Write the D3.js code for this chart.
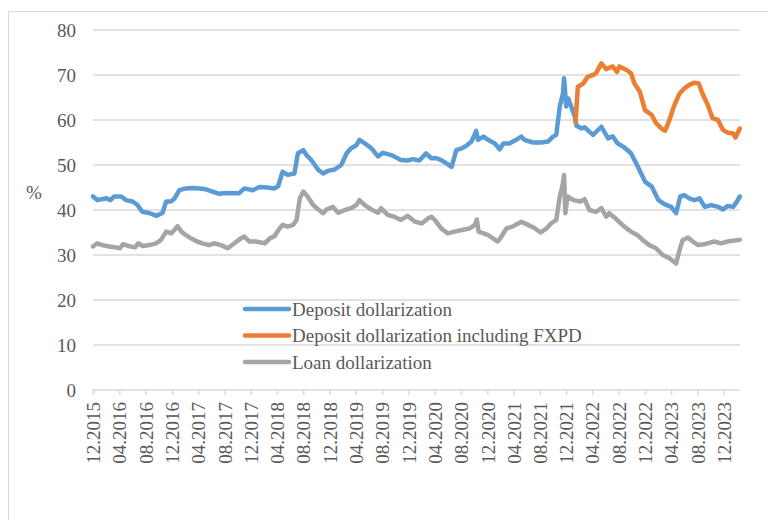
<!DOCTYPE html>
<html>
<head>
<meta charset="utf-8">
<script src="https://cdn.jsdelivr.net/npm/d3@7"></script>
<style>
  body { margin: 0; background: #fff; }
  svg { display: block; font-family: "Liberation Serif", "Times New Roman", serif; }
</style>
</head>
<body>
<svg id="chart" width="768" height="520"></svg>
<script>
// series as [date, %]
const depositDollarization = [
  ["2015-12-01",43.0],["2015-12-21",42.2],["2016-02-01",42.6],["2016-02-21",42.2],["2016-03-07",43.0],
  ["2016-04-10",43.0],["2016-05-01",42.2],["2016-06-01",41.9],["2016-06-24",41.1],["2016-07-16",39.6],
  ["2016-08-10",39.4],["2016-09-01",39.1],["2016-09-21",38.7],["2016-10-18",39.4],["2016-11-04",41.9],
  ["2016-11-27",41.9],["2016-12-13",42.6],["2017-01-04",44.4],["2017-02-04",44.8],["2017-03-07",44.9],
  ["2017-04-07",44.8],["2017-05-07",44.6],["2017-06-07",44.1],["2017-07-07",43.6],["2017-08-07",43.8],
  ["2017-09-07",43.7],["2017-10-07",43.7],["2017-11-01",44.8],["2017-12-10",44.4],["2018-01-10",45.1],
  ["2018-02-16",45.0],["2018-03-21",44.8],["2018-04-07",45.3],["2018-04-27",48.5],["2018-05-21",47.8],
  ["2018-06-21",48.1],["2018-07-07",52.6],["2018-08-01",53.3],["2018-08-16",52.2],["2018-09-07",51.1],
  ["2018-10-10",48.9],["2018-11-01",48.1],["2018-11-24",48.7],["2018-12-24",49.0],["2019-01-24",50.0],
  ["2019-02-18",52.6],["2019-03-10",53.7],["2019-04-04",54.4],["2019-04-18",55.6],["2019-05-13",54.8],
  ["2019-06-13",53.7],["2019-07-13",51.9],["2019-08-04",52.7],["2019-09-13",52.2],["2019-10-27",51.1],
  ["2019-11-27",51.0],["2019-12-21",51.3],["2020-01-21",51.0],["2020-02-21",52.6],["2020-03-16",51.5],
  ["2020-04-10",51.5],["2020-05-01",51.1],["2020-05-24",50.4],["2020-06-18",49.6],["2020-07-10",53.3],
  ["2020-08-04",53.7],["2020-08-24",54.2],["2020-09-18",55.2],["2020-10-10",57.6],["2020-10-18",55.6],
  ["2020-11-13",56.3],["2020-12-04",55.6],["2021-01-04",54.8],["2021-01-27",53.5],["2021-02-13",54.8],
  ["2021-03-13",54.8],["2021-04-13",55.6],["2021-05-07",56.3],["2021-05-21",55.6],["2021-07-01",55.0],
  ["2021-08-07",55.0],["2021-09-07",55.2],["2021-10-01",56.3],["2021-10-16",56.7],["2021-11-01",63.0],
  ["2021-11-16",65.9],["2021-11-21",69.3],["2021-12-01",63.0],["2021-12-10",64.8],["2021-12-24",63.0],
  ["2022-01-10",60.7],["2022-01-18",58.7],["2022-02-10",58.1],["2022-02-24",58.4],["2022-03-16",57.5],
  ["2022-04-04",56.7],["2022-05-13",58.5],["2022-06-13",55.9],["2022-07-04",56.4],["2022-07-27",54.8],
  ["2022-08-27",53.9],["2022-09-27",52.6],["2022-10-21",50.4],["2022-11-13",48.1],["2022-12-01",46.3],
  ["2023-01-01",45.2],["2023-02-01",42.2],["2023-03-01",41.3],["2023-04-01",40.7],["2023-04-24",39.3],
  ["2023-05-13",43.0],["2023-06-01",43.3],["2023-06-24",42.6],["2023-07-18",42.2],["2023-08-10",42.6],
  ["2023-09-04",40.7],["2023-10-04",41.1],["2023-11-04",40.7],["2023-11-27",40.1],["2023-12-18",40.9],
  ["2024-01-13",40.7],["2024-01-27",41.6],["2024-02-13",43.0]
];

const depositInclFXPD = [
  ["2022-01-13",59.5],["2022-01-24",67.4],["2022-02-18",68.1],["2022-03-10",69.6],["2022-04-04",70.0],
  ["2022-04-18",70.4],["2022-05-13",72.6],["2022-06-04",71.3],["2022-07-04",71.9],["2022-07-24",70.7],
  ["2022-08-04",71.9],["2022-09-07",71.1],["2022-09-27",70.4],["2022-10-13",68.1],["2022-11-07",66.3],
  ["2022-12-01",62.2],["2023-01-01",61.1],["2023-01-21",59.3],["2023-02-16",58.1],["2023-03-04",57.6],
  ["2023-03-24",60.0],["2023-04-16",63.3],["2023-05-10",65.9],["2023-06-01",67.0],["2023-06-24",67.8],
  ["2023-07-18",68.3],["2023-08-07",68.1],["2023-08-24",65.9],["2023-09-18",63.3],["2023-10-10",60.4],
  ["2023-11-04",60.0],["2023-11-27",57.8],["2023-12-18",57.2],["2024-01-13",57.0],["2024-01-24",56.1],
  ["2024-02-13",58.1]
];

const loanDollarization = [
  ["2015-12-01",31.9],["2015-12-21",32.6],["2016-01-13",32.2],["2016-02-13",31.9],["2016-03-13",31.7],
  ["2016-04-04",31.5],["2016-04-18",32.4],["2016-05-13",32.0],["2016-06-13",31.7],["2016-06-27",32.6],
  ["2016-07-18",32.0],["2016-08-18",32.2],["2016-09-18",32.6],["2016-10-10",33.3],["2016-11-04",35.2],
  ["2016-11-27",34.8],["2016-12-13",35.6],["2016-12-27",36.4],["2017-01-13",35.2],["2017-02-04",34.4],
  ["2017-02-27",33.7],["2017-03-27",33.0],["2017-04-21",32.6],["2017-05-21",32.2],["2017-06-13",32.6],
  ["2017-07-16",32.2],["2017-08-16",31.5],["2017-09-16",32.6],["2017-10-16",33.7],["2017-11-01",34.1],
  ["2017-11-24",33.0],["2017-12-24",33.0],["2018-02-04",32.6],["2018-02-27",33.7],["2018-03-21",34.2],
  ["2018-04-13",35.9],["2018-04-27",36.7],["2018-05-21",36.3],["2018-06-16",36.7],["2018-07-01",37.8],
  ["2018-07-16",42.6],["2018-08-01",44.1],["2018-08-21",43.0],["2018-09-16",41.1],["2018-10-10",40.1],
  ["2018-11-01",39.3],["2018-11-16",40.1],["2018-12-16",40.7],["2019-01-10",39.4],["2019-02-10",40.0],
  ["2019-03-10",40.4],["2019-04-04",41.1],["2019-04-18",42.2],["2019-05-13",41.1],["2019-06-13",40.1],
  ["2019-07-13",39.4],["2019-07-27",40.4],["2019-08-27",38.9],["2019-09-27",38.5],["2019-10-27",37.8],
  ["2019-11-27",38.7],["2020-01-01",37.4],["2020-02-01",37.0],["2020-03-01",38.1],["2020-03-16",38.5],
  ["2020-04-01",37.8],["2020-05-01",35.9],["2020-06-01",34.8],["2020-07-01",35.2],["2020-08-10",35.6],
  ["2020-09-10",35.9],["2020-10-04",36.7],["2020-10-13",37.9],["2020-10-21",35.2],["2020-11-13",34.8],
  ["2020-12-04",34.4],["2020-12-27",33.7],["2021-01-18",33.0],["2021-02-04",34.1],["2021-02-27",35.9],
  ["2021-03-27",36.3],["2021-05-07",37.4],["2021-06-07",36.7],["2021-07-07",36.0],["2021-08-04",35.0],
  ["2021-09-01",35.9],["2021-09-21",37.0],["2021-10-16",37.8],["2021-11-01",43.0],["2021-11-13",45.2],
  ["2021-11-21",47.8],["2021-11-27",39.3],["2021-12-07",43.0],["2022-01-04",42.2],["2022-02-04",41.9],
  ["2022-02-24",42.4],["2022-03-18",40.0],["2022-04-18",39.6],["2022-05-13",40.4],["2022-06-04",38.5],
  ["2022-06-18",39.3],["2022-07-18",38.1],["2022-08-27",36.3],["2022-09-27",35.2],["2022-10-27",34.4],
  ["2022-11-21",33.3],["2022-12-21",32.2],["2023-01-21",31.5],["2023-02-21",30.0],["2023-03-24",29.3],
  ["2023-04-24",28.1],["2023-05-10",31.1],["2023-05-24",33.3],["2023-06-18",33.9],["2023-07-10",33.0],
  ["2023-08-04",32.2],["2023-09-04",32.4],["2023-10-18",33.0],["2023-11-18",32.6],["2023-12-18",33.0],
  ["2024-01-18",33.2],["2024-02-13",33.4]
];

const seriesNames = ["Deposit dollarization", "Deposit dollarization including FXPD", "Loan dollarization"];
const seriesColors = ["#5b9bd5", "#ed7d31", "#a5a5a5"];

const tickLabels = ["12.2015","04.2016","08.2016","12.2016","04.2017","08.2017","12.2017",
  "04.2018","08.2018","12.2018","04.2019","08.2019","12.2019","04.2020","08.2020","12.2020",
  "04.2021","08.2021","12.2021","04.2022","08.2022","12.2022","04.2023","08.2023","12.2023"];
const yTicks = [0, 10, 20, 30, 40, 50, 60, 70, 80];

const parseDay = d3.timeParse("%Y-%m-%d");
const parseTick = d3.timeParse("%m.%Y");

const svg = d3.select("#chart");
const plotLeft = 93, plotRight = 740, plotTop = 30, plotBottom = 390;
const textColor = "#595959", gridColor = "#d9d9d9";

// chart frame
svg.append("rect")
  .attr("x", 8.5).attr("y", 11.5).attr("width", 800).attr("height", 540)
  .attr("fill", "none").attr("stroke", "#d9d9d9").attr("stroke-width", 1);

const x = d3.scaleTime()
  .domain([parseDay("2015-12-01"), parseDay("2024-02-14")])
  .range([plotLeft, plotRight]);
const y = d3.scaleLinear().domain([0, 80]).range([plotBottom, plotTop]);

// gridlines
svg.append("g").selectAll("line").data(yTicks.slice(1)).enter().append("line")
  .attr("x1", plotLeft).attr("x2", plotRight)
  .attr("y1", d => y(d)).attr("y2", d => y(d))
  .attr("stroke", gridColor).attr("stroke-width", 1.3);

// y axis labels
const yAxis = svg.append("g")
  .attr("transform", "translate(" + (plotLeft - 17) + ",0)")
  .call(d3.axisLeft(y).tickValues(yTicks).tickSize(0).tickPadding(0));
yAxis.select(".domain").remove();
yAxis.selectAll("text")
  .attr("fill", textColor).style("font-size", "19px")
  .style("font-family", "'Liberation Serif', 'Times New Roman', serif");

svg.append("text").text("%")
  .attr("x", 34).attr("y", 199)
  .attr("text-anchor", "middle")
  .attr("fill", textColor).style("font-size", "19px");

// x axis
const xAxis = svg.append("g")
  .attr("transform", "translate(0," + plotBottom + ")")
  .call(d3.axisBottom(x).tickValues(tickLabels.map(parseTick))
    .tickSizeInner(5).tickSizeOuter(0).tickFormat(d3.timeFormat("%m.%Y")));
xAxis.select(".domain").attr("stroke", gridColor).attr("stroke-width", 1.5)
  .attr("d", "M" + plotLeft + ",0H" + plotRight);
xAxis.selectAll(".tick line").attr("stroke", gridColor).attr("stroke-width", 1.5);
xAxis.selectAll(".tick text")
  .attr("fill", textColor).style("font-size", "19px")
  .style("font-family", "'Liberation Serif', 'Times New Roman', serif")
  .attr("text-anchor", "end")
  .attr("transform", "rotate(-90)")
  .attr("x", -12).attr("y", 0).attr("dy", "0.35em");

// lines
const line = d3.line()
  .x(d => x(parseDay(d[0])))
  .y(d => y(d[1]));

[depositDollarization, depositInclFXPD, loanDollarization].forEach(function(s, i) {
  svg.append("path")
    .datum(s)
    .attr("d", line)
    .attr("fill", "none")
    .attr("stroke", seriesColors[i])
    .attr("stroke-width", 4.5)
    .attr("stroke-linejoin", "round")
    .attr("stroke-linecap", "round");
});

// legend
const legend = svg.append("g").selectAll("g").data(seriesNames).enter().append("g")
  .attr("transform", (d, i) => "translate(245," + (309 + i * 26.5) + ")");
legend.append("line")
  .attr("x1", 0).attr("x2", 44)
  .attr("stroke", (d, i) => seriesColors[i])
  .attr("stroke-width", 4.5).attr("stroke-linecap", "round");
legend.append("text")
  .text(d => d)
  .attr("x", 47).attr("dy", "0.35em")
  .attr("fill", textColor).style("font-size", "19px");
</script>
</body>
</html>
